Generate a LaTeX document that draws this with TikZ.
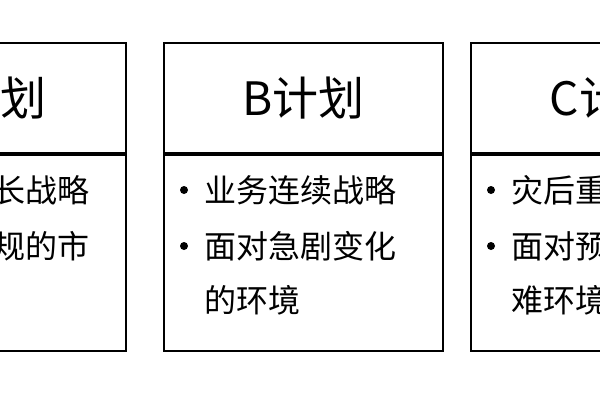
\documentclass[tikz,border=0pt]{standalone}
\usepackage{fontspec}
\setmainfont{Noto Sans CJK SC}
\usetikzlibrary{positioning}
\tikzset{
  planbox/.style={draw, line width=1.8pt, minimum width=279pt, inner sep=0pt},
  plantitle/.style={planbox, minimum height=110pt, font=\fontsize{46}{50}\selectfont},
  planbody/.style={planbox, minimum height=196pt},
  item/.style={anchor=west, inner sep=0pt, font=\fontsize{32}{36}\selectfont},
  dot/.style={circle, fill, inner sep=0pt, minimum size=8pt}
}
\begin{document}
\begin{tikzpicture}[x=1pt, y=-1pt]
      \useasboundingbox (0,0) rectangle (600,400);
      \clip (0,0) rectangle (600,400);
      %boxes
      \foreach \n/\x/\t in {a/-154/A, b/163/B, c/470/C} {
        \node[plantitle, anchor=north west] (\n title) at (\x,42) {\t 计划};
        \node[planbody, anchor=north] (\n body) at (\n title.south) {};
      }
      %plan A
      \node[item] (a1) at (-103,190) {业务成长战略};
      \node[item] (a2) at (-103,246) {面对常规的市};
      \node[item] (a3) at (-103,300) {场环境};
      \node[dot] at (-123,190) {};
      \node[dot] at (-123,246) {};
      %plan B
      \node[item] (b1) at (204,190) {业务连续战略};
      \node[item] (b2) at (204,246) {面对急剧变化};
      \node[item] (b3) at (204,300) {的环境};
      \node[dot] at (184,190) {};
      \node[dot] at (184,246) {};
      %plan C
      \node[item] (c1) at (511,190) {灾后重建战略};
      \node[item] (c2) at (511,246) {面对预期外灾};
      \node[item] (c3) at (511,300) {难环境};
      \node[dot] at (491,190) {};
      \node[dot] at (491,246) {};
\end{tikzpicture}
\end{document}
